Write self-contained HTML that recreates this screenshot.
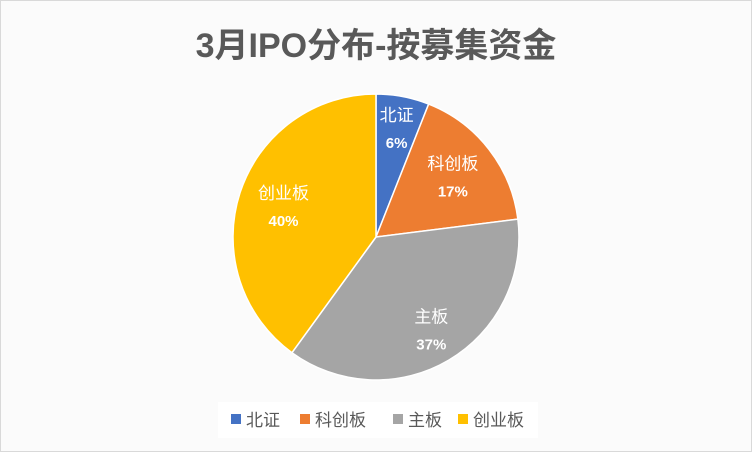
<!DOCTYPE html>
<html><head><meta charset="utf-8"><style>
html,body{margin:0;padding:0;background:#fff}
#c{position:relative;width:752px;height:452px;overflow:hidden}
</style></head><body>
<div id="c">
<svg width="752" height="452" viewBox="0 0 752 452" id="svg">
<rect x="0.5" y="0.5" width="751" height="451" fill="#fbfbfb" stroke="#d9d9d9"/>
<text x="376" y="57" text-anchor="middle" font-family="Liberation Sans, Noto Sans CJK SC, sans-serif" font-size="34" font-weight="bold" fill="#595959">3月IPO分布-按募集资金</text>
<g id="slices"></g>
<g id="labels"></g>
<rect x="218" y="402" width="320" height="36" fill="#fff"/>
<g id="legend"></g>
</svg>
</div>
<script>
const categories=["北证","科创板","主板","创业板"];
const values=[6,17,37,40];
const colors=["#4472c4","#ed7d31","#a5a5a5","#ffc000"];
const cx=376,cy=237,r=143;
const NS="http://www.w3.org/2000/svg";
const total=values.reduce((a,b)=>a+b,0);
const sl=document.getElementById('slices'),lb=document.getElementById('labels'),lg=document.getElementById('legend');
function pt(a,rr){return [cx+rr*Math.sin(a),cy-rr*Math.cos(a)];}
let acc=0;
values.forEach((v,i)=>{
  const a0=acc/total*2*Math.PI; acc+=v; const a1=acc/total*2*Math.PI;
  const p0=pt(a0,r),p1=pt(a1,r);
  const p=document.createElementNS(NS,'path');
  p.setAttribute('d',`M${cx},${cy}L${p0[0]},${p0[1]}A${r},${r} 0 ${a1-a0>Math.PI?1:0} 1 ${p1[0]},${p1[1]}Z`);
  p.setAttribute('fill',colors[i]);p.setAttribute('stroke','#fff');p.setAttribute('stroke-width','1.5');
  
  
  sl.appendChild(p);
  const am=(a0+a1)/2;
  const rr=v<10?0.77*r:((am>Math.PI/2&&am<Math.PI*1.2)?0.76*r:0.68*r);
  const lp=pt(am,rr);
  const t=document.createElementNS(NS,'text');
  t.setAttribute('x',lp[0]);t.setAttribute('y',lp[1]-8);t.setAttribute('text-anchor','middle');
  t.setAttribute('font-family','Liberation Sans, Noto Sans CJK SC, sans-serif');
  t.setAttribute('fill','#fff');t.setAttribute('font-size','17');
  
  
  const s1=document.createElementNS(NS,'tspan');s1.setAttribute('x',lp[0]);s1.textContent=categories[i];
  const s2=document.createElementNS(NS,'tspan');s2.setAttribute('x',lp[0]);s2.setAttribute('dy','27');s2.setAttribute('font-weight','bold');s2.setAttribute('font-size','15');s2.textContent=v+'%';
  t.appendChild(s1);t.appendChild(s2);lb.appendChild(t);
});
const lx=[231,300,393,458];
categories.forEach((c,i)=>{
  const g=document.createElementNS(NS,'g');
  
  
  const sq=document.createElementNS(NS,'rect');
  sq.setAttribute('x',lx[i]);sq.setAttribute('y',414);sq.setAttribute('width',10);sq.setAttribute('height',10);sq.setAttribute('fill',colors[i]);
  const t=document.createElementNS(NS,'text');
  t.setAttribute('x',lx[i]+15);t.setAttribute('y',426);t.setAttribute('font-size','17');t.setAttribute('fill','#595959');
  t.setAttribute('font-family','Liberation Sans, Noto Sans CJK SC, sans-serif');
  t.textContent=c;
  g.appendChild(sq);g.appendChild(t);lg.appendChild(g);
});
</script>
</body></html>
